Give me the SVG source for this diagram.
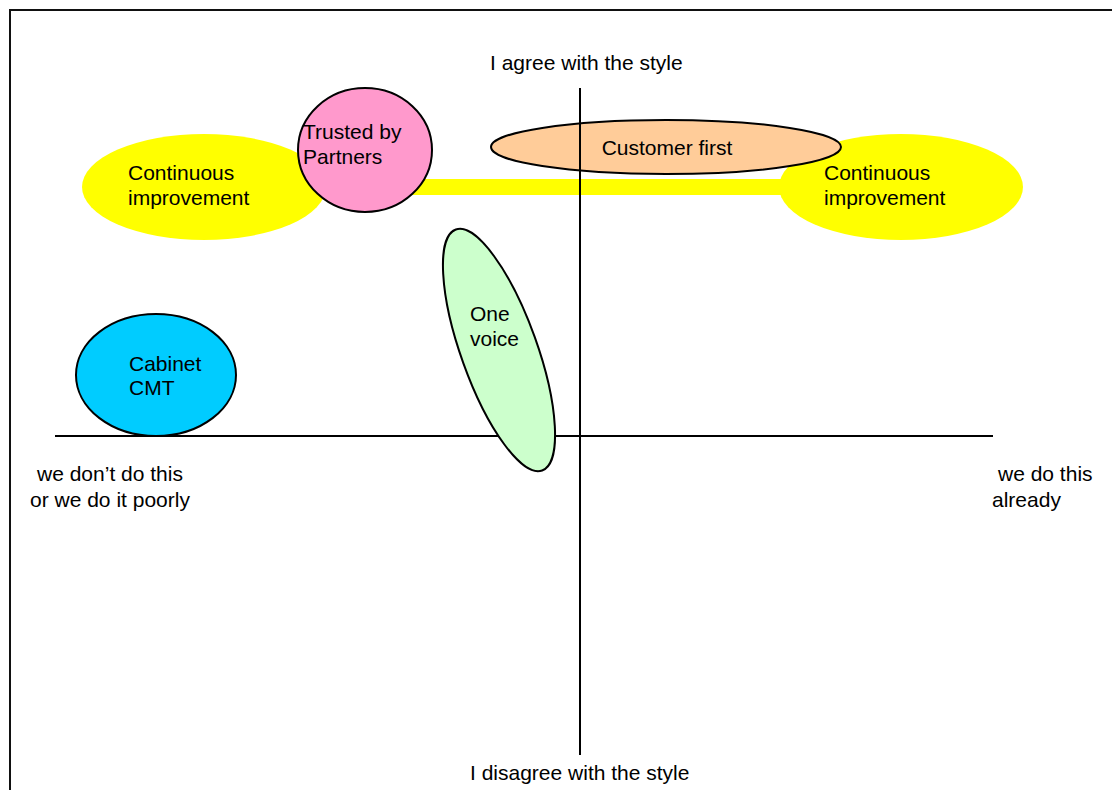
<svg xmlns="http://www.w3.org/2000/svg" width="1112" height="790" viewBox="0 0 1112 790">
<style>
text{font-family:"Liberation Sans",Arial,sans-serif;font-size:21px;fill:#000}
.o{stroke:#000;stroke-width:2}
.ax{stroke:#000;stroke-width:2;fill:none}
</style>
<rect width="1112" height="790" fill="#fff"/>
<polyline points="10,790 10,10 1112,10" fill="none" stroke="#111" stroke-width="2"/>
<g id="labels">
<text x="490" y="70">I agree with the style</text>
<text x="470" y="780">I disagree with the style</text>
<text x="37" y="481">we don’t do this</text>
<text x="30" y="507">or we do it poorly</text>
<text x="998" y="481">we do this</text>
<text x="992" y="507">already</text>
</g>
<g id="band"><rect x="300" y="179" width="560" height="16" fill="#ffff00"/></g>
<g id="ci-left"><ellipse cx="204" cy="187" rx="122" ry="53" fill="#ffff00"/><text x="128" y="180">Continuous</text><text x="128" y="205">improvement</text></g>
<g id="ci-right"><ellipse cx="901" cy="187" rx="122" ry="53" fill="#ffff00"/><text x="824" y="180">Continuous</text><text x="824" y="205">improvement</text></g>
<g id="customer-first"><ellipse class="o" cx="666" cy="147" rx="175" ry="27" fill="#ffcc99"/><text x="667" y="155" text-anchor="middle">Customer first</text></g>
<g id="connectors">
<line class="ax" x1="580" y1="88" x2="580" y2="755"/>
<line class="ax" x1="55" y1="436" x2="993" y2="436"/>
</g>
<g id="trusted"><ellipse class="o" cx="365" cy="150" rx="67" ry="62" fill="#ff99cc"/><text x="303" y="139">Trusted by</text><text x="303" y="164">Partners</text></g>
<g id="one-voice"><ellipse class="o" cx="0" cy="0" rx="38" ry="128" fill="#ccffcc" transform="translate(499,350) rotate(-19.7)"/><text x="470" y="321">One</text><text x="470" y="346">voice</text></g>
<g id="cabinet"><ellipse class="o" cx="156" cy="375" rx="80" ry="61" fill="#00ccff"/><text x="129" y="371">Cabinet</text><text x="129" y="395">CMT</text></g>
</svg>
